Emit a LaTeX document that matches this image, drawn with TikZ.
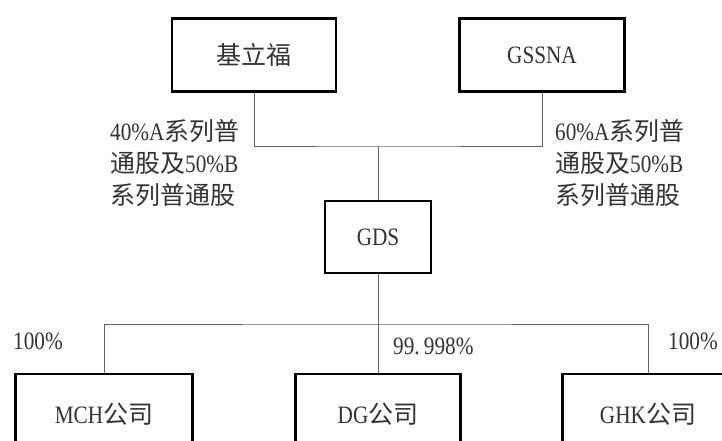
\documentclass[tikz,border=0pt]{standalone}
\usepackage{fontspec}
\setmainfont{Liberation Serif}[FakeStretch=0.85]
\newfontfamily\cjk{Noto Sans CJK SC}
\newcommand{\zh}[1]{{\cjk #1}}
\begin{document}
\begin{tikzpicture}[x=1pt, y=-1pt,
    entity/.style={draw=black, line width=2.2pt, inner sep=0pt, text=black!80},
    link/.style={draw=black!60, line width=0.9pt},
    share/.style={inner sep=0pt, anchor=west, align=left, text=black!80}]
    \useasboundingbox (0,0) rectangle (722,441);
    \clip (0,0) rectangle (722,441);
    \fontsize{25}{32}\selectfont
    % shareholders
    \node[entity, minimum width=164, minimum height=73] (jlf) at (254,55) {\zh{基立福}};
    \node[entity, minimum width=165, minimum height=73] (gssna) at (542,55) {GSSNA};
    \node[entity, minimum width=106, minimum height=72] (gds) at (378,237) {GDS};
    % subsidiaries (cut off at the bottom)
    \node[entity, minimum width=177, minimum height=80] (mch) at (104,414) {MCH\zh{公司}};
    \node[entity, minimum width=165, minimum height=80] (dg) at (378,414) {DG\zh{公司}};
    \node[entity, minimum width=171, minimum height=80] (ghk) at (648,414) {GHK\zh{公司}};
    \coordinate (top) at (378,146);
    \coordinate (bus) at (378,324);
    \draw[link] (jlf.south) |- (top) -| (gssna.south);
    \draw[link] (top) -- (gds.north);
    \draw[link] (gds.south) -- (dg.north);
    \draw[link] (mch.north) |- (bus) -| (ghk.north);
    % percentages
    \node[share] (own40) at (110,163) {40\%A\zh{系列普}\\\zh{通股及}50\%B\\\zh{系列普通股}};
    \node[share] (own60) at (555,163) {60\%A\zh{系列普}\\\zh{通股及}50\%B\\\zh{系列普通股}};
    \node[share] (pmch) at (13,341) {100\%};
    \node[share] (pdg) at (393,346) {99.\,998\%};
    \node[share] (pghk) at (668,341) {100\%};
\end{tikzpicture}
\end{document}
